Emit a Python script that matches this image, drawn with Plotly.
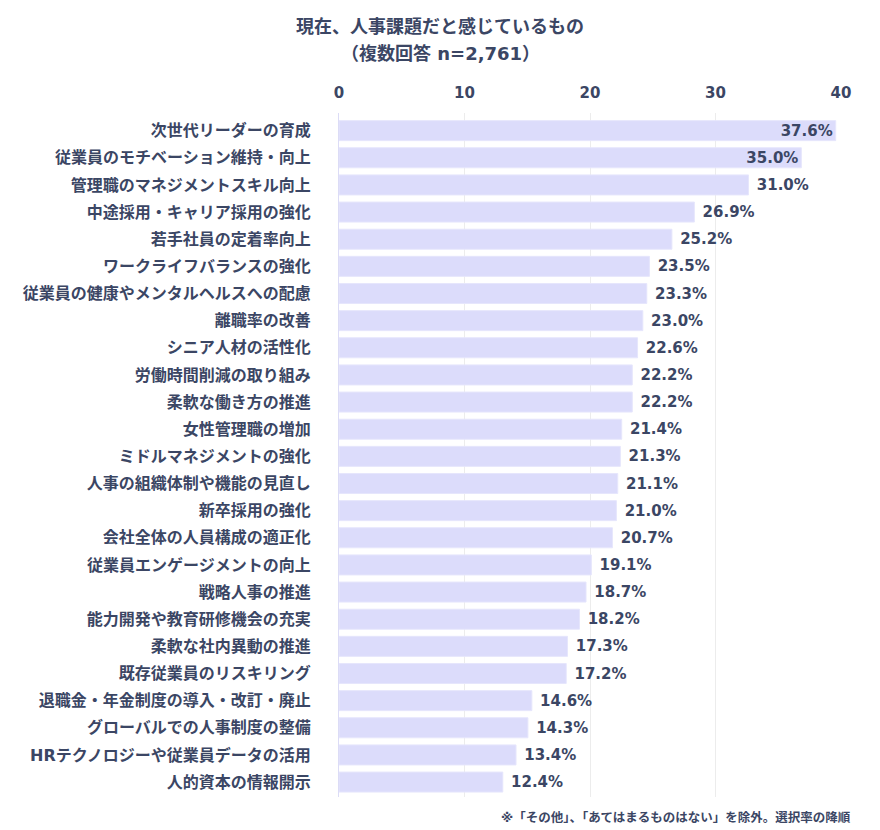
import plotly.graph_objects as go

categories = [
    "次世代リーダーの育成",
    "従業員のモチベーション維持・向上",
    "管理職のマネジメントスキル向上",
    "中途採用・キャリア採用の強化",
    "若手社員の定着率向上",
    "ワークライフバランスの強化",
    "従業員の健康やメンタルヘルスへの配慮",
    "離職率の改善",
    "シニア人材の活性化",
    "労働時間削減の取り組み",
    "柔軟な働き方の推進",
    "女性管理職の増加",
    "ミドルマネジメントの強化",
    "人事の組織体制や機能の見直し",
    "新卒採用の強化",
    "会社全体の人員構成の適正化",
    "従業員エンゲージメントの向上",
    "戦略人事の推進",
    "能力開発や教育研修機会の充実",
    "柔軟な社内異動の推進",
    "既存従業員のリスキリング",
    "退職金・年金制度の導入・改訂・廃止",
    "グローバルでの人事制度の整備",
    "HRテクノロジーや従業員データの活用",
    "人的資本の情報開示",
]
values = [37.6, 35.0, 31.0, 26.9, 25.2, 23.5, 23.3, 23.0, 22.6, 22.2, 22.2,
          21.4, 21.3, 21.1, 21.0, 20.7, 19.1, 18.7, 18.2, 17.3, 17.2, 14.6,
          14.3, 13.4, 12.4]
tick_values = [0, 10, 20, 30, 40]

title_line1 = "現在、人事課題だと感じているもの"
title_line2 = "（複数回答 n=2,761）"
footnote = "※「その他」、「あてはまるものはない」を除外。選択率の降順"

FONT = "DejaVu Sans, Noto Sans CJK JP, sans-serif"
TXT = "#3b4664"
BAR = "#dcdcfb"

positions = ["inside" if v > 34 else "outside" for v in values]
texts = [("%.1f%%" % v) if p == "inside" else (" %.1f%%" % v)
         for v, p in zip(values, positions)]

fig = go.Figure()
fig.add_trace(go.Bar(
    x=values, y=categories, orientation="h",
    marker=dict(color=BAR, line=dict(color="#e6e6fc", width=1)),
    text=texts, textposition=positions, insidetextanchor="end",
    constraintext="none",
    textfont=dict(family=FONT, size=15, color=TXT, weight="bold"),
    cliponaxis=False, xaxis="x", yaxis="y",
    hoverinfo="skip",
))
# visible scale axis (top)
fig.add_trace(go.Scatter(x=[0, 40], y=[categories[0], categories[0]],
                         xaxis="x2", yaxis="y", mode="markers",
                         marker=dict(opacity=0), showlegend=False,
                         hoverinfo="skip"))

fig.update_layout(
    width=880, height=830,
    margin=dict(l=339, r=39, t=113, b=33),
    plot_bgcolor="white", paper_bgcolor="white",
    showlegend=False,
    bargap=0.263,
    font=dict(family=FONT, color=TXT, weight="bold"),
    xaxis=dict(range=[0, 38.0], visible=False, showgrid=False, zeroline=False),
    xaxis2=dict(range=[0, 40], overlaying="x", side="top", tickvals=tick_values,
                showgrid=True, gridcolor="#ececec", zeroline=False,
                showline=False, ticks="", ticklabelstandoff=11,
                tickfont=dict(size=15, color=TXT, family=FONT, weight="bold")),
    yaxis=dict(type="category", categoryorder="array", categoryarray=categories,
               range=[24.55, -0.65], showgrid=False, zeroline=False,
               showline=True, linecolor="#dcdcf6", linewidth=1, ticks="",
               ticklabelstandoff=24,
               tickfont=dict(size=16, color=TXT, family=FONT, weight="bold")),
    annotations=[
        dict(text=title_line1, xref="paper", yref="paper",
             x=(440 - 339) / 502, y=(797 - 27) / 684, showarrow=False,
             xanchor="center", yanchor="middle",
             font=dict(size=18, color=TXT, family=FONT, weight="bold")),
        dict(text=title_line2, xref="paper", yref="paper",
             x=(440 - 339) / 502, y=(797 - 54) / 684, showarrow=False,
             xanchor="center", yanchor="middle",
             font=dict(size=18, color=TXT, family=FONT, weight="bold")),
        dict(text=footnote, xref="paper", yref="paper",
             x=(853 - 339) / 502, y=(797 - 817) / 684, showarrow=False,
             xanchor="right", yanchor="middle",
             font=dict(size=12.5, color=TXT, family=FONT, weight="bold")),
    ],
)

fig.write_html("out.html")
